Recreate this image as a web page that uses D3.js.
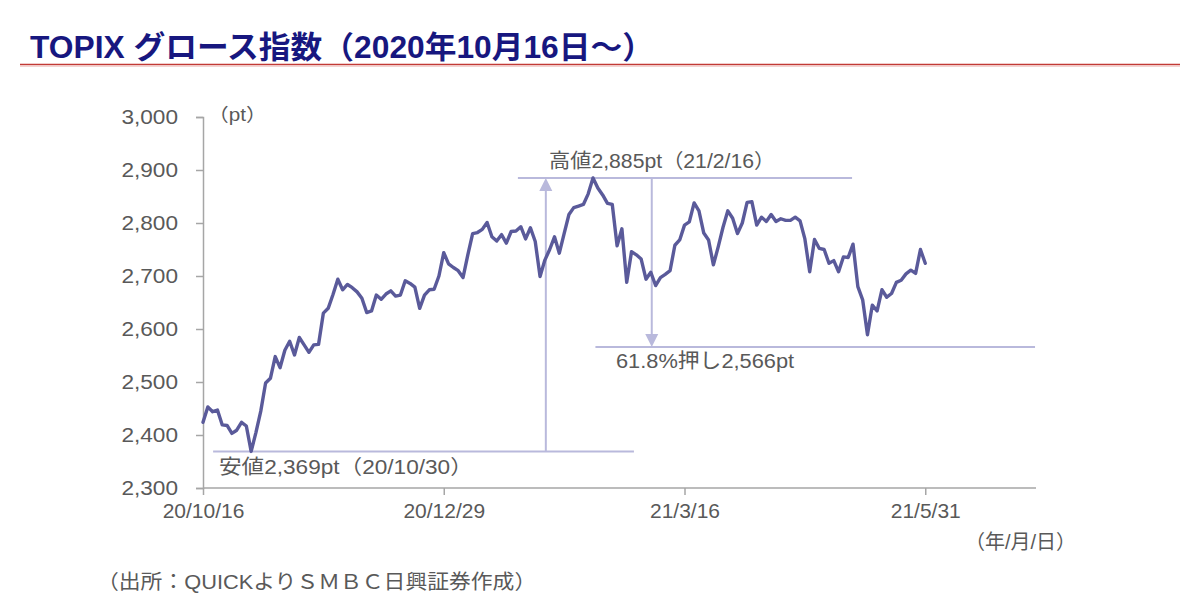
<!DOCTYPE html>
<html><head><meta charset="utf-8">
<script src="https://cdn.jsdelivr.net/npm/d3@7"></script>
<style>
html,body{margin:0;padding:0;background:#fff;}
svg{display:block;}
text{font-family:"Liberation Sans","Noto Sans CJK JP",sans-serif;}
</style></head>
<body>
<svg id="chart" width="1200" height="602"></svg>
<script>
// ---- data ----
const values = [
2424,2453,2444,2447,2419,2418,2403,2409,2424,2417,
2369,2405,2445,2498,2507,2548,2527,2560,2577,2551,
2584,2570,2556,2570,2571,2630,2639,2665,2694,2674,
2684,2678,2670,2658,2631,2634,2664,2656,2666,2672,
2662,2664,2691,2686,2679,2639,2664,2674,2675,2700,
2744,2723,2716,2710,2697,2740,2780,2782,2788,2801,
2774,2766,2778,2762,2784,2785,2793,2770,2791,2765,
2699,2730,2750,2774,2743,2780,2816,2829,2832,2835,
2855,2885,2866,2853,2837,2835,2757,2789,2688,2746,
2740,2732,2694,2707,2682,2697,2703,2710,2758,2768,
2796,2802,2838,2823,2781,2768,2721,2755,2792,2823,
2809,2780,2800,2839,2840,2796,2811,2803,2816,2803,
2808,2805,2805,2811,2804,2770,2708,2769,2752,2750,
2724,2729,2708,2736,2735,2760,2680,2655,2589,2645,
2634,2674,2660,2667,2688,2692,2704,2711,2705,2750,
2724
];
const tickIndex = [0, 50, 100, 150];
const tickLabels = ["20/10/16", "20/12/29", "21/3/16", "21/5/31"];
const yTicks = [2300, 2400, 2500, 2600, 2700, 2800, 2900, 3000];
const axisSlots = 173;
const lowIndex = 10, lowValue = 2369;
const highIndex = 81, highValue = 2885;
const retraceValue = 2566;

const titleText = "TOPIX グロース指数（2020年10月16日～）";
const lowLabel = "安値2,369pt（20/10/30）";
const highLabel = "高値2,885pt（21/2/16）";
const retraceLabel = "61.8%押し2,566pt";
const unitLabel = "（pt）";
const dateUnitLabel = "（年/月/日）";
const sourceLabel = "（出所：QUICKよりＳＭＢＣ日興証券作成）";

// ---- drawing ----
const svg = d3.select("#chart");
const x = d3.scaleLinear().domain([0, axisSlots]).range([203, 1036]);
const y = d3.scaleLinear().domain([2300, 3000]).range([488, 117]);

const axisColor = "#a6a6a6", labelColor = "#595959", annColor = "#b9b9dc", lineColor = "#5a5a9a";

function stretch(sel, k) {
  sel.each(function () {
    const L = this.getComputedTextLength();
    d3.select(this).attr("textLength", L * k).attr("lengthAdjust", "spacingAndGlyphs");
  });
  return sel;
}

// title
svg.append("text").attr("x", 30).attr("y", 58)
  .attr("font-size", 31).attr("font-weight", "bold").attr("fill", "#17177f")
  .attr("textLength", 624).attr("lengthAdjust", "spacingAndGlyphs")
  .text(titleText);
svg.append("line").attr("x1", 20).attr("x2", 1180).attr("y1", 64.5).attr("y2", 64.5)
  .attr("stroke", "#c23a36").attr("stroke-width", 1.6);
svg.append("line").attr("x1", 20).attr("x2", 1180).attr("y1", 66.2).attr("y2", 66.2)
  .attr("stroke", "#efc4c2").attr("stroke-width", 1.2);

// y axis
const yAxis = d3.axisLeft(y).tickValues(yTicks).tickSize(7).tickPadding(18)
  .tickFormat(d3.format(","));
const gy = svg.append("g").attr("transform", "translate(203,0)").call(yAxis);
gy.select(".domain").attr("stroke", axisColor).attr("stroke-width", 1.5);
gy.selectAll(".tick line").attr("stroke", axisColor).attr("stroke-width", 1.5);
stretch(gy.selectAll(".tick text").attr("fill", labelColor).attr("font-size", 20)
  .attr("font-family", "Liberation Sans, sans-serif"), 1.13);

// x axis
const xAxis = d3.axisBottom(x).tickValues(tickIndex).tickSize(7).tickPadding(8)
  .tickFormat((d, i) => tickLabels[i]);
const gx = svg.append("g").attr("transform", "translate(0,488)").call(xAxis);
gx.select(".domain").attr("stroke", axisColor).attr("stroke-width", 1.5)
  .attr("d", `M${x(0)},0H${x(axisSlots)}`);
gx.selectAll(".tick line").attr("stroke", axisColor).attr("stroke-width", 1.5);
gx.selectAll(".tick text").attr("fill", labelColor).attr("font-size", 21)
  .attr("font-family", "Liberation Sans, sans-serif");

// annotation lines
const ann = svg.append("g").attr("stroke", annColor).attr("stroke-width", 2).attr("fill", "none");
ann.append("line").attr("x1", x(2.1)).attr("x2", x(89.5)).attr("y1", y(lowValue)).attr("y2", y(lowValue));
ann.append("line").attr("x1", x(65.4)).attr("x2", x(134.8)).attr("y1", y(highValue)).attr("y2", y(highValue));
ann.append("line").attr("x1", x(81.5)).attr("x2", x(172.8)).attr("y1", y(retraceValue)).attr("y2", y(retraceValue));
const upX = x(71.2), downX = x(93.2);
ann.append("line").attr("x1", upX).attr("x2", upX).attr("y1", y(lowValue)).attr("y2", y(highValue) + 10);
ann.append("line").attr("x1", downX).attr("x2", downX).attr("y1", y(highValue)).attr("y2", y(retraceValue) - 10);
svg.append("path").attr("fill", annColor)
  .attr("d", `M${upX},${y(highValue)}L${upX - 6.5},${y(highValue) + 13}L${upX + 6.5},${y(highValue) + 13}Z`);
svg.append("path").attr("fill", annColor)
  .attr("d", `M${downX},${y(retraceValue)}L${downX - 6.5},${y(retraceValue) - 13}L${downX + 6.5},${y(retraceValue) - 13}Z`);

// series line
const line = d3.line().x((d, i) => x(i)).y(d => y(d));
svg.append("path").datum(values).attr("d", line)
  .attr("fill", "none").attr("stroke", lineColor).attr("stroke-width", 3.4)
  .attr("stroke-linejoin", "round").attr("stroke-linecap", "round");

// labels
function lab(t, xx, yy, size, k) {
  const s = svg.append("text").attr("x", xx).attr("y", yy).attr("font-size", size)
    .attr("fill", labelColor).text(t);
  if (k) stretch(s, k);
  return s;
}
lab(lowLabel, 219, 474, 20, 1.13);
lab(highLabel, 549, 168, 20, 1.06);
lab(retraceLabel, 616, 368, 20, 1.09);
lab(unitLabel, 208, 121, 18, 1.15);
lab(dateUnitLabel, 965, 549, 20, 1.0);
lab(sourceLabel, 97, 589, 20, 1.09);
</script>
</body></html>
